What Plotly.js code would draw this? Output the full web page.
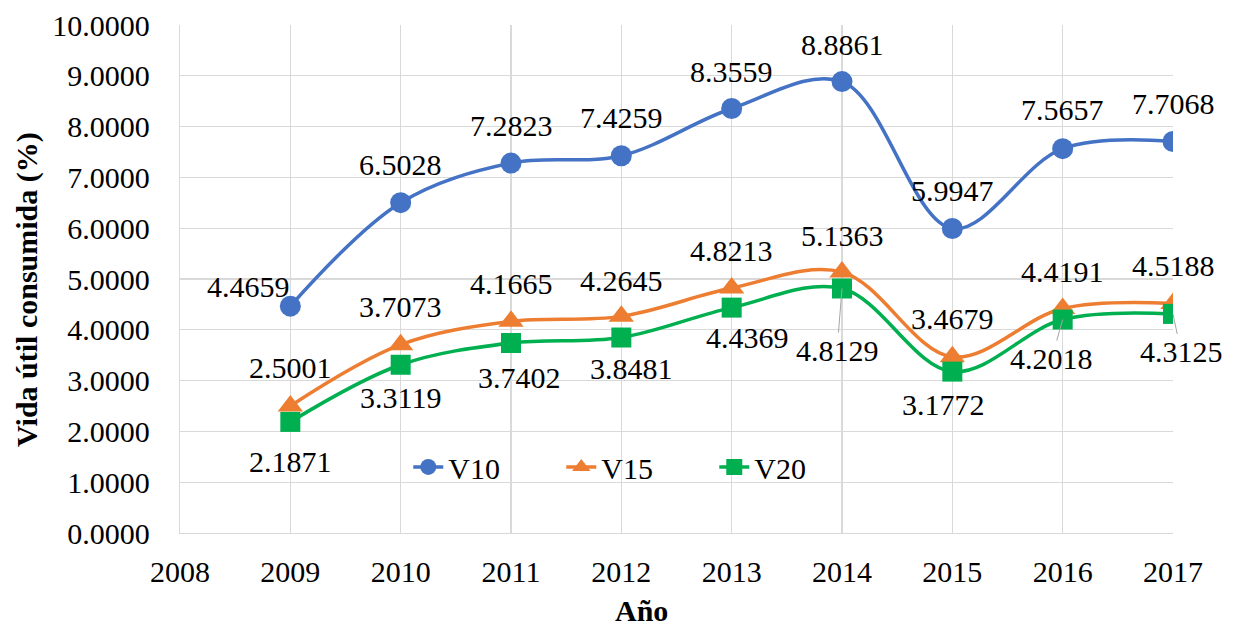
<!DOCTYPE html>
<html>
<head>
<meta charset="utf-8">
<script src="https://cdn.plot.ly/plotly-3.0.1.min.js"></script>
<style>html,body{margin:0;padding:0;background:#fff;}#chart{width:1235px;height:629px;}</style>
</head>
<body>
<div id="chart"></div>
<script>
// ---- data ----
const years = [2009, 2010, 2011, 2012, 2013, 2014, 2015, 2016, 2017];
const v10 = [4.4659, 6.5028, 7.2823, 7.4259, 8.3559, 8.8861, 5.9947, 7.5657, 7.7068];
const v15 = [2.5001, 3.7073, 4.1665, 4.2645, 4.8213, 5.1363, 3.4679, 4.4191, 4.5188];
const v20 = [2.1871, 3.3119, 3.7402, 3.8481, 4.4369, 4.8129, 3.1772, 4.2018, 4.3125];
const seriesNames = ["V10", "V15", "V20"];
const yTitle = "Vida útil consumida (%)";
const xTitle = "Año";

// ---- label placement (pixel offsets, style only) ----
const off10 = [[-42,-20],[0,-38],[0,-38],[0,-38],[0,-37],[0,-37],[0,-38],[0,-39],[0,-38]];
const off15 = [[0,-38],[0,-38],[0,-38],[0,-36],[0,-38],[0,-37],[0,-38],[0,-37],[0,-38]];
const off20 = [[0,40],[0,33],[8,34],[10,31],[16,30],[-5,62],[-9,33],[-11,39],[8,38]];
const leader20 = [false,false,false,false,false,true,false,true,true];

const FONT = "Liberation Serif";
const colors = ["#4472C4", "#ED7D31", "#00B050"];

function mkTrace(y, name, color, symbol, size) {
  return {
    x: years, y: y, name: name, type: "scatter", mode: "lines+markers",
    line: {color: color, width: 3.5, shape: "spline", smoothing: 1},
    marker: {color: color, symbol: symbol, size: size, line: {width: 0}},
    hoverinfo: "x+y"
  };
}
const traces = [
  mkTrace(v10, seriesNames[0], colors[0], "circle", 21),
  mkTrace(v15, seriesNames[1], colors[1], "triangle-up", 22),
  mkTrace(v20, seriesNames[2], colors[2], "square", 20)
];

const annotations = [];
function addLabels(vals, offs, leaders) {
  vals.forEach((v, i) => {
    const o = offs[i];
    const lead = leaders && leaders[i];
    if (lead) {
      annotations.push({
        x: years[i], y: v, xref: "x", yref: "y", text: v.toFixed(4),
        showarrow: true, arrowhead: 0, arrowwidth: 1, arrowcolor: "#a6a6a6",
        ax: o[0], ay: o[1], axref: "pixel", ayref: "pixel",
        font: {family: FONT, size: 30, color: "#000"}
      });
    } else {
      annotations.push({
        x: years[i], y: v, xref: "x", yref: "y", text: v.toFixed(4),
        showarrow: false, xshift: o[0], yshift: -o[1],
        font: {family: FONT, size: 30, color: "#000"}
      });
    }
  });
}
addLabels(v10, off10, null);
addLabels(v15, off15, null);
addLabels(v20, off20, leader20);

annotations.push({
  text: "<b>" + xTitle + "</b>", xref: "paper", yref: "paper",
  x: (641 - 180) / 993, y: -(629 - 533) / 508, xanchor: "center", yanchor: "bottom",
  showarrow: false, font: {family: FONT, size: 30, color: "#000"}
});
annotations.push({
  text: "<b>" + yTitle + "</b>", xref: "paper", yref: "paper",
  x: -(180 - 27) / 993, y: (533 - 290) / 508, xanchor: "center", yanchor: "middle",
  textangle: -90, showarrow: false, font: {family: FONT, size: 30, color: "#000"}
});

const layout = {
  width: 1235, height: 629,
  margin: {l: 180, r: 62, t: 25, b: 96},
  paper_bgcolor: "#fff", plot_bgcolor: "#fff",
  font: {family: FONT, size: 30, color: "#000"},
  showlegend: true,
  legend: {
    orientation: "h", x: 0.461, xanchor: "center", y: 0.13, yanchor: "middle",
    bgcolor: "rgba(0,0,0,0)", font: {family: FONT, size: 30, color: "#000"},
    itemwidth: 30, traceorder: "normal", entrywidth: 108, entrywidthmode: "pixels"
  },
  xaxis: {
    range: [2008, 2017], dtick: 1, tick0: 2008, showgrid: true,
    gridcolor: "#d9d9d9", gridwidth: 1.3, zeroline: false,
    showline: true, linecolor: "#d9d9d9", linewidth: 1.3,
    ticks: "", ticklabelstandoff: 12,
    tickfont: {family: FONT, size: 30, color: "#000"}
  },
  yaxis: {
    range: [0, 10], dtick: 1, tick0: 0, tickformat: ".4f", showgrid: true,
    gridcolor: "#d9d9d9", gridwidth: 1.3, zeroline: false,
    showline: true, linecolor: "#d9d9d9", linewidth: 1.3,
    ticks: "", ticklabelstandoff: 23,
    tickfont: {family: FONT, size: 30, color: "#000"}
  },
  annotations: annotations
};

Plotly.newPlot("chart", traces, layout, {displayModeBar: false, staticPlot: true});
</script>
</body>
</html>
